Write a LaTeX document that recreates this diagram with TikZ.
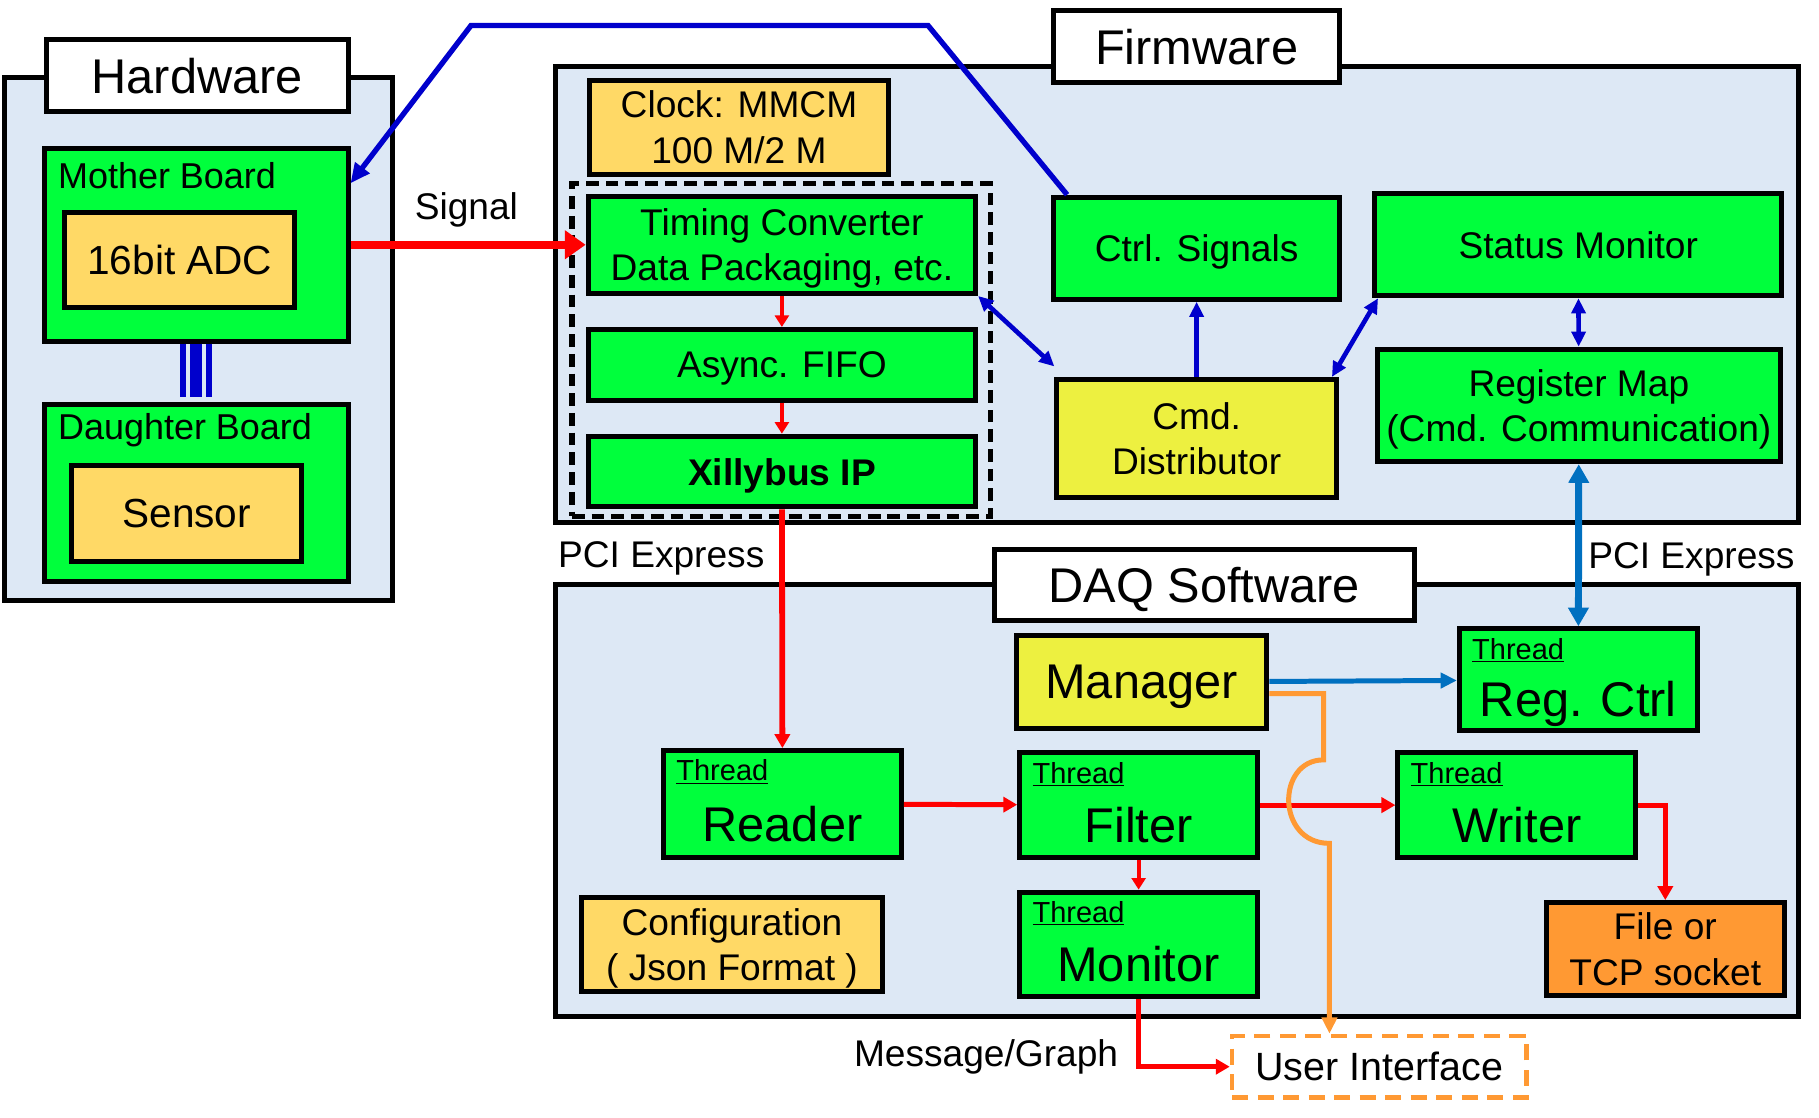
\documentclass[tikz,border=0pt]{standalone}
\usepackage{fontspec}
\setmainfont{Liberation Sans}
\usepackage{xcolor}
\usetikzlibrary{arrows.meta}

\definecolor{panelblue}{RGB}{221,232,245}
\definecolor{logicgreen}{RGB}{0,255,60}
\definecolor{partyellow}{RGB}{255,217,102}
\definecolor{hubyellow}{RGB}{237,240,64}
\definecolor{sinkorange}{RGB}{255,153,51}
\definecolor{ctrlblue}{RGB}{0,0,204}
\definecolor{pciblue}{RGB}{0,112,192}

\begin{document}
\begin{tikzpicture}[
  x=1pt, y=-1pt,
  font=\fontsize{32}{39}\selectfont,
  every node/.style={text depth=0pt},
  panel/.style={draw=black, line width=4.3pt, fill=panelblue, inner sep=0pt},
  heading/.style={draw=black, line width=4.3pt, fill=white, inner sep=0pt,
    font=\fontsize{42}{48}\selectfont},
  box/.style={draw=black, line width=4.3pt, align=center, inner sep=0pt},
  logic/.style={box, fill=logicgreen},
  part/.style={box, fill=partyellow},
  hub/.style={box, fill=hubyellow},
  tag/.style={anchor=north west, inner sep=0pt, font=\fontsize{31}{36}\selectfont},
  thread/.style={logic, font=\fontsize{42}{48}\selectfont, text height=64pt, text depth=0pt,
    label={[anchor=north west, inner sep=0pt, xshift=13pt, yshift=-10pt,
      text height=, text depth=, font=\fontsize{25}{28}\selectfont]north west:\underline{Thread}}},
  data/.style={->, >={Triangle[length=12pt,width=13pt]}, draw=red, line width=4.3pt},
  hop/.style={data, line width=3.4pt, >={Triangle[length=10pt,width=12pt]}},
  sigline/.style={->, >={Triangle[length=18pt,width=24pt]}, draw=red, line width=6.5pt},
  ctrlline/.style={->, >={Triangle[length=17pt,width=15pt]}, draw=ctrlblue, line width=4.6pt},
  ctrlboth/.style={<->, >={Triangle[length=13pt,width=12pt]}, draw=ctrlblue, line width=4pt},
  pcilink/.style={<->, >={Triangle[length=16pt,width=17pt]}, draw=pciblue, line width=6pt},
  reglink/.style={->, >={Triangle[length=14pt,width=13pt]}, draw=pciblue, line width=4.3pt},
  uiline/.style={->, >={Triangle[length=14pt,width=13pt]}, draw=sinkorange, line width=4.3pt},
  bus/.style={draw=ctrlblue, line width=5pt}
]
  \useasboundingbox (0,0) rectangle (1568,963);

  % panels
  \node[panel, minimum width=334, minimum height=451] (hwpanel) at (171,292.5) {};
  \node[panel, minimum width=1071, minimum height=393] (fwpanel) at (1014.5,253.5) {};
  \node[panel, minimum width=1071, minimum height=372] (daqpanel) at (1014.5,690) {};
  \node[heading, minimum width=260, minimum height=62] (hwtitle) at (170,65) {Hardware};
  \node[heading, minimum width=247, minimum height=62] (fwtitle) at (1031.5,40) {Firmware};
  \node[heading, minimum width=362, minimum height=61] (daqtitle) at (1038,504.5) {DAQ Software};

  % hardware
  \node[logic, minimum width=262, minimum height=166,
    label={[tag, xshift=14pt, yshift=-14pt]north west:Mother Board}] (mother) at (169,211) {};
  \node[part, minimum width=198, minimum height=82, font=\fontsize{35}{40}\selectfont] (adc) at (155,224) {16bit ADC};
  \node[logic, minimum width=262, minimum height=152,
    label={[tag, xshift=14pt, yshift=-9pt]north west:Daughter Board}] (daughter) at (169,425) {};
  \node[part, minimum width=198, minimum height=83, font=\fontsize{35}{40}\selectfont] (sensor) at (161,442.5) {Sensor};

  % firmware
  \node[part, minimum width=258, minimum height=81] (clock) at (637,109.5) {Clock: MMCM\\100 M/2 M};
  \node[draw=black, line width=4.5pt, dash pattern=on 11pt off 6pt, minimum width=361, minimum height=287] (core) at (673.5,301.5) {};
  \node[logic, minimum width=334, minimum height=84] (timing) at (674,211) {Timing Converter\\Data Packaging, etc.};
  \node[logic, minimum width=334, minimum height=61] (fifo) at (674,314.5) {Async. FIFO};
  \node[logic, minimum width=334, minimum height=61, font=\fontsize{32}{39}\selectfont\bfseries] (xilly) at (674,406.5) {Xillybus IP};
  \node[logic, minimum width=247, minimum height=88] (ctrl) at (1031.5,214) {Ctrl. Signals};
  \node[logic, minimum width=351, minimum height=88] (status) at (1360.5,211) {Status Monitor};
  \node[hub, minimum width=241, minimum height=102] (cmd) at (1031.5,378) {Cmd.\\Distributor};
  \node[logic, minimum width=348, minimum height=97] (regmap) at (1361,349.5) {Register Map\\(Cmd. Communication)};

  % software
  \node[hub, minimum width=216, minimum height=80, font=\fontsize{42}{48}\selectfont] (manager) at (984,588) {Manager};
  \node[thread, minimum width=205, minimum height=88] (regctrl) at (1360.5,586) {Reg. Ctrl};
  \node[thread, minimum width=205, minimum height=92] (reader) at (674.5,693) {Reader};
  \node[thread, minimum width=205, minimum height=90] (filter) at (981.5,694) {Filter};
  \node[thread, minimum width=205, minimum height=90] (writer) at (1307.5,694) {Writer};
  \node[thread, minimum width=205, minimum height=90] (monitor) at (981.5,814) {Monitor};
  \node[part, minimum width=260, minimum height=81] (config) at (631,814.5) {Configuration\\( Json Format )};
  \node[box, fill=sinkorange, minimum width=205, minimum height=80] (sink) at (1435.5,818) {File or\\TCP socket};
  \node[draw=sinkorange, line width=4pt, dash pattern=on 14pt off 8pt, inner sep=0pt,
    minimum width=254, minimum height=53, font=\fontsize{34}{40}\selectfont] (ui) at (1189,919.5) {User Interface};

  % labels
  \node (siglabel) at (402,178) {Signal};
  \node (pcileft) at (570,478) {PCI Express};
  \node (pciright) at (1458,479) {PCI Express};
  \node (msglabel) at (850,908) {Message/Graph};

  \coordinate (bendA) at (800,22);
  \coordinate (bendB) at (406,22);
  \coordinate (hopin) at (1141,655);
  \coordinate (hopout) at (1146,727);

  % connectors
  \draw[bus] ([xshift=-11pt]mother.south) -- ([xshift=-11pt,yshift=5pt]daughter.north);
  \draw[bus, line width=10pt] (mother.south) -- ([yshift=5pt]daughter.north);
  \draw[bus] ([xshift=11pt]mother.south) -- ([xshift=11pt,yshift=5pt]daughter.north);
  \draw[sigline] (mother.east) -- (timing.west);
  \draw[ctrlline] ([xshift=14pt]ctrl.north west) -- (bendA) -- (bendB) -- ([yshift=53pt]mother.east);
  \draw[hop] (timing) -- (fifo);
  \draw[hop] (fifo) -- (xilly);
  \draw[data, line width=5pt] (xilly) -- (reader);
  \draw[ctrlboth] (timing.south east) -- ([yshift=9pt]cmd.north west);
  \draw[ctrlline, line width=4pt, >={Triangle[length=13pt,width=12pt]}] (cmd) -- (ctrl);
  \draw[ctrlboth] ([xshift=-6pt]cmd.north east) -- ([xshift=5pt]status.south west);
  \draw[ctrlboth] (status) -- (regmap);
  \draw[pcilink] (regmap) -- (regctrl);
  \draw[reglink] (manager) -- (regctrl);
  \draw[data] (reader) -- (filter);
  \draw[data] (filter) -- (writer);
  \draw[hop] (filter) -- (monitor);
  \draw[data] (writer.east) -| (sink.north);
  \draw[data] (monitor.south) |- (ui.west);
  \draw[uiline] ([yshift=-10pt]manager.east) -| (hopin)
    .. controls (1100,655) and (1100,727) .. (hopout) -- ([xshift=-43pt]ui.north);
\end{tikzpicture}
\end{document}
